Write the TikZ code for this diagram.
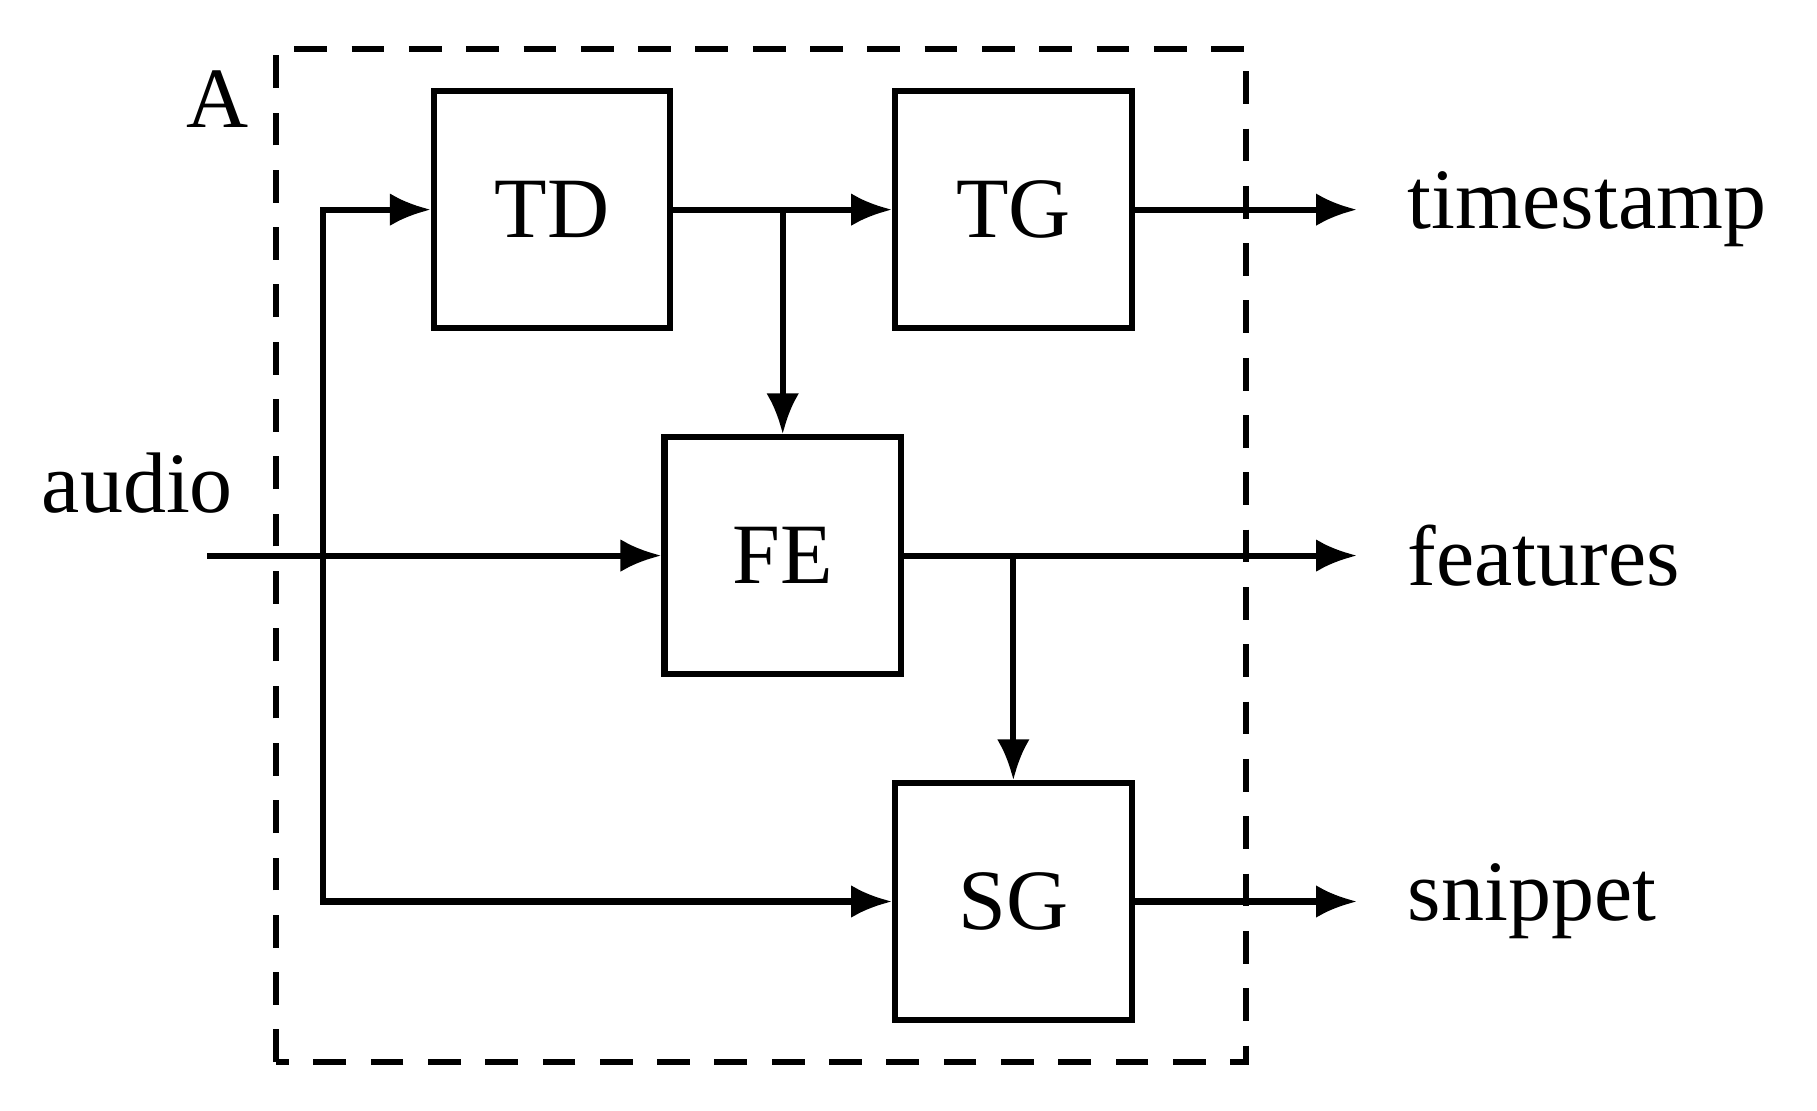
\documentclass[tikz,border=0pt]{standalone}
\usepackage{fontspec}
\setmainfont{Liberation Serif}
\usetikzlibrary{arrows.meta}

\begin{document}
\begin{tikzpicture}[
    blk/.style={draw, line width=1.5pt, minimum size=2.03cm, inner sep=0pt},
    lbl/.style={inner sep=0pt, anchor=west},
    sig/.style={line width=1.5pt, -{Latex[length=10pt,width=8pt]}},
    every node/.style={font=\fontsize{21}{24}\selectfont}
  ]
  \useasboundingbox (0,0) rectangle (15.6,9.53);

  % frame
  \draw[dashed, line width=1.5pt, dash pattern=on 8pt off 6pt] (2.37,0.41) rectangle (10.70,9.11);
  \node (lblA) at (1.87,8.68) {A};

  % blocks
  \node[blk] (TD) at (4.74,7.73) {TD};
  \node[blk] (TG) at (8.70,7.73) {TG};
  \node[blk] (FE) at (6.72,4.76) {FE};
  \node[blk] (SG) at (8.70,1.79) {SG};

  % inputs
  \coordinate (in) at (1.78,4.76);
  \coordinate (split) at (2.77,4.76);
  \node (audio) at (1.18,5.38) {audio};
  \draw[sig] (in) -- (FE);
  \draw[sig] (split) |- (TD);
  \draw[sig] (split) |- (SG);
  \draw[sig] (TD) -- (TG);
  \draw[sig] (TD -| FE) -- (FE);
  \draw[sig] (FE -| SG) -- (SG);

  % outputs
  \coordinate (o1) at (11.65,7.73);
  \coordinate (o2) at (11.65,4.76);
  \coordinate (o3) at (11.65,1.79);
  \draw[sig] (TG) -- (o1);
  \draw[sig] (FE) -- (o2);
  \draw[sig] (SG) -- (o3);
  \node[lbl] (ts) at (12.08,7.73) {timestamp};
  \node[lbl] (ft) at (12.08,4.76) {features};
  \node[lbl] (sn) at (12.08,1.79) {snippet};
\end{tikzpicture}
\end{document}
